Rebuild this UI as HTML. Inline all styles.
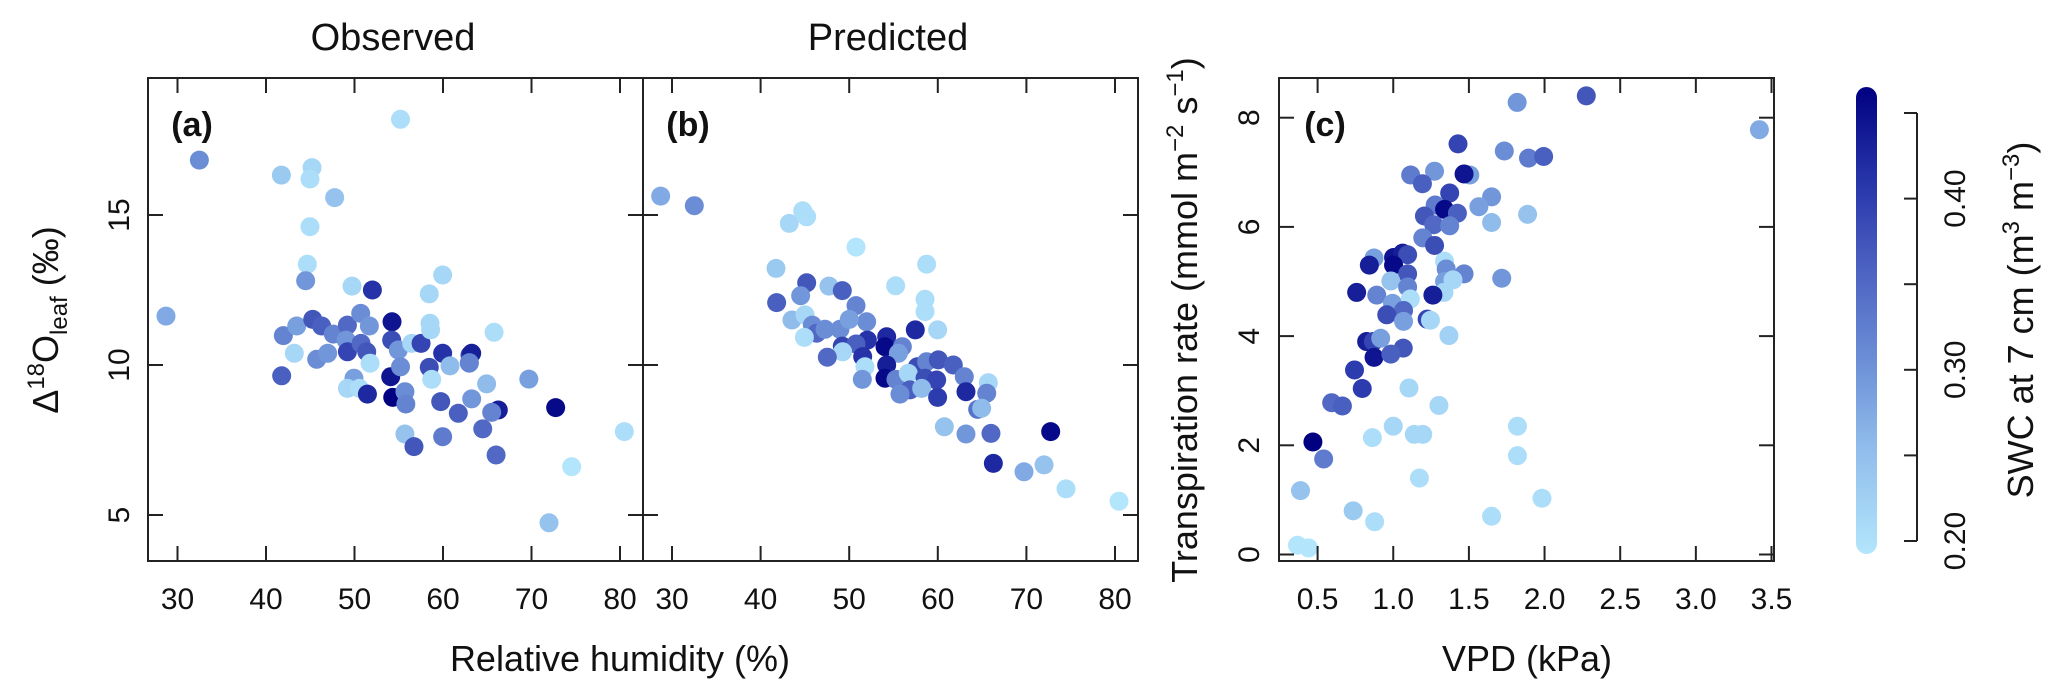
<!DOCTYPE html>
<html><head><meta charset="utf-8">
<style>
html,body{margin:0;padding:0;background:#fff;}
svg{display:block;font-family:"Liberation Sans",Arial,sans-serif;}
</style></head>
<body>
<svg id="chart" width="2067" height="698" viewBox="0 0 2067 698" xmlns="http://www.w3.org/2000/svg">
<defs>
<linearGradient id="cbgrad" x1="0" y1="1" x2="0" y2="0">
<stop offset="0" stop-color="#B3E5FC"/>
<stop offset="0.23" stop-color="#8FBCEB"/>
<stop offset="0.42" stop-color="#6B8DD6"/>
<stop offset="0.62" stop-color="#4A60C0"/>
<stop offset="0.81" stop-color="#2532A8"/>
<stop offset="1" stop-color="#000080"/>
</linearGradient>
</defs>
<g id="layer"></g>
</svg>
<script>
// Panel (a) observed: RH, d18O, SWC
const obsRH = [55.2,32.47,28.7,41.74,45.2,44.97,47.76,44.97,44.67,44.48,49.72,52.02,41.96,43.47,45.28,46.29,47.61,49.2,50.7,51.68,49.05,49.2,50.74,51.38,43.2,45.73,46.97,41.77,49.94,49.2,50.55,51.76,51.46,54.24,54.2,54.95,56.46,57.52,54.09,54.32,55.2,55.7,55.8,55.7,56.72,58.45,58.72,59.96,60.79,59.74,59.96,61.73,63.05,62.97,58.53,58.6,58.45,59.96,65.77,69.7,63.24,62.98,64.93,63.24,66.25,65.5,64.49,66.0,72.73,80.49,74.54,71.98];
const obsD = [18.19,16.83,11.63,16.33,16.58,16.2,15.58,14.61,13.36,12.81,12.63,12.5,10.98,11.3,11.52,11.3,11.03,11.33,11.72,11.3,10.83,10.44,10.72,10.44,10.39,10.19,10.39,9.64,9.56,9.22,9.22,10.06,9.03,11.44,10.83,10.5,10.72,10.72,9.61,8.92,9.94,9.11,8.7,7.7,7.28,9.92,9.52,10.39,9.97,8.78,7.61,8.39,10.33,10.06,11.39,11.17,12.37,13.0,11.09,9.53,10.39,10.08,9.37,8.87,8.5,8.42,7.87,7.0,8.58,7.78,6.61,4.74];
const obsSWC = [0.20,0.30,0.27,0.23,0.21,0.20,0.24,0.20,0.20,0.29,0.21,0.40,0.31,0.28,0.36,0.35,0.31,0.34,0.30,0.29,0.29,0.38,0.34,0.36,0.21,0.30,0.29,0.35,0.28,0.21,0.20,0.20,0.41,0.43,0.37,0.29,0.21,0.38,0.43,0.45,0.30,0.30,0.31,0.24,0.36,0.37,0.20,0.40,0.25,0.36,0.32,0.35,0.38,0.30,0.21,0.21,0.21,0.21,0.20,0.28,0.42,0.31,0.25,0.29,0.42,0.31,0.34,0.34,0.44,0.20,0.19,0.24];
// Panel (b) predicted
const predRH = [28.72,32.52,43.24,44.75,45.2,50.77,41.74,58.74,55.24,45.2,47.72,49.22,44.52,41.81,50.77,58.56,58.56,43.54,45.01,51.97,59.98,45.84,46.33,44.94,47.27,48.96,50.01,57.46,54.23,52.05,49.22,50.77,54.04,56.0,55.55,49.26,47.53,51.52,54.23,51.78,57.69,58.74,60.06,61.75,62.99,65.7,51.48,54.04,55.28,56.67,58.56,59.87,56.86,55.73,58.18,59.98,63.18,65.52,64.5,64.95,60.74,63.18,66.0,72.74,66.27,69.73,71.99,74.47,80.45];
const predD = [15.63,15.31,14.72,15.14,14.94,13.93,13.22,13.36,12.64,12.74,12.63,12.48,12.31,12.08,11.98,12.19,11.78,11.5,11.67,11.44,11.17,11.33,11.06,10.92,11.19,11.19,11.52,11.17,10.94,10.83,10.63,10.7,10.61,10.61,10.39,10.44,10.26,10.28,10.0,9.94,9.94,10.11,10.17,10.0,9.61,9.41,9.52,9.56,9.52,9.72,9.56,9.5,9.17,9.03,9.22,8.92,9.11,9.06,8.52,8.56,7.94,7.7,7.72,7.78,6.72,6.44,6.67,5.87,5.46];
const predSWC = [0.27,0.30,0.21,0.20,0.20,0.19,0.23,0.20,0.20,0.36,0.24,0.35,0.29,0.35,0.31,0.20,0.20,0.25,0.21,0.30,0.21,0.30,0.34,0.20,0.30,0.30,0.28,0.41,0.41,0.40,0.38,0.35,0.44,0.31,0.28,0.21,0.34,0.40,0.42,0.20,0.37,0.31,0.36,0.35,0.31,0.21,0.29,0.44,0.31,0.21,0.37,0.38,0.35,0.30,0.25,0.39,0.41,0.31,0.33,0.25,0.24,0.29,0.34,0.44,0.41,0.27,0.24,0.20,0.19];
// Panel (c) VPD vs transpiration
const vpd = [1.819,2.276,3.42,1.428,1.734,1.894,1.994,1.115,1.273,1.506,1.468,1.193,1.373,1.65,1.566,1.888,1.65,1.277,1.339,1.424,1.206,1.268,1.373,1.195,1.273,0.873,0.842,1.002,1.062,1.095,1.002,1.095,1.339,1.35,1.468,1.717,0.984,1.095,1.339,1.395,1.335,0.758,0.891,1.262,0.995,1.113,1.068,0.957,1.068,1.224,1.246,1.368,0.824,0.869,0.917,1.066,0.873,0.984,0.744,0.795,0.593,0.664,1.104,1.302,0.469,0.54,0.862,1.0,1.139,1.195,1.821,1.821,1.173,0.387,0.735,0.877,1.65,1.983,0.367,0.44];
const trans = [8.28,8.40,7.78,7.52,7.39,7.26,7.29,6.95,7.02,6.95,6.97,6.79,6.62,6.55,6.37,6.23,6.08,6.40,6.32,6.25,6.20,6.04,6.02,5.80,5.66,5.43,5.30,5.44,5.52,5.49,5.30,5.14,5.37,5.23,5.14,5.06,5.01,4.90,5.0,5.03,4.80,4.80,4.75,4.75,4.60,4.68,4.47,4.39,4.27,4.31,4.29,4.01,3.90,3.90,3.96,3.78,3.61,3.67,3.38,3.04,2.78,2.72,3.05,2.73,2.06,1.75,2.14,2.35,2.20,2.20,2.35,1.81,1.40,1.17,0.80,0.60,0.70,1.03,0.17,0.12];
const transSWC = [0.29,0.36,0.27,0.38,0.30,0.32,0.35,0.32,0.29,0.28,0.43,0.35,0.38,0.29,0.28,0.24,0.25,0.32,0.44,0.35,0.36,0.34,0.31,0.31,0.37,0.28,0.42,0.43,0.42,0.37,0.44,0.36,0.20,0.30,0.31,0.29,0.24,0.31,0.28,0.21,0.21,0.42,0.31,0.42,0.28,0.20,0.34,0.37,0.28,0.38,0.21,0.22,0.42,0.38,0.28,0.36,0.43,0.35,0.39,0.39,0.34,0.35,0.21,0.21,0.45,0.32,0.20,0.21,0.21,0.21,0.20,0.20,0.20,0.24,0.23,0.20,0.20,0.20,0.19,0.19];
const rhTicks = [30,40,50,60,70,80];
const dTicks = [5,10,15];
const vpdTicks = [0.5,1.0,1.5,2.0,2.5,3.0,3.5];
const tTicks = [0,2,4,6,8];
const swcTicks = [0.20,0.25,0.30,0.35,0.40,0.45];
const swcLabels = ["0.20","","0.30","","0.40",""];

const NS = "http://www.w3.org/2000/svg";
const layer = document.getElementById("layer");
function mk(tag, attrs, parent){
  const e = document.createElementNS(NS, tag);
  for (const k in attrs) e.setAttribute(k, attrs[k]);
  (parent||layer).appendChild(e);
  return e;
}
const stops = [[0.19,[179,229,252]],[0.25,[143,188,235]],[0.30,[107,141,214]],[0.35,[74,96,192]],[0.40,[37,50,168]],[0.45,[0,0,128]]];
function swcColor(v){
  if (v<=stops[0][0]) return "rgb("+stops[0][1].join(",")+")";
  for (let i=1;i<stops.length;i++){
    if (v<=stops[i][0]){
      const t=(v-stops[i-1][0])/(stops[i][0]-stops[i-1][0]);
      const a=stops[i-1][1], b=stops[i][1];
      return "rgb("+a.map((c,j)=>Math.round(c+(b[j]-c)*t)).join(",")+")";
    }
  }
  return "rgb(0,0,128)";
}
const xa = v => 177.5 + (v-30)*8.85;
const xb = v => 672 + (v-30)*8.86;
const yab = v => 365 - (v-10)*30;
const xc = v => 1317.6 + (v-0.5)*151.3;
const yc = v => 554.5 - v*54.6;
const TOP=78, BOT=561;

function box(x1,x2,name){
  const r = mk("rect",{x:x1,y:TOP,width:x2-x1,height:BOT-TOP,fill:"none",stroke:"#222","stroke-width":2});
  
  
}
function points(xs, ys, cs, fx, fy, name){
  const g = mk("g",{});
  
  
  for (let i=0;i<xs.length;i++){
    const c = mk("circle",{cx:fx(xs[i]),cy:fy(ys[i]),r:9.5,fill:swcColor(cs[i])},g);
    
    
  }
}
function xTicks(ticks, fx, labels, name){
  const g = mk("g",{});
  
  
  ticks.forEach((t,i)=>{
    const x=fx(t);
    mk("line",{x1:x,x2:x,y1:BOT,y2:BOT-15,stroke:"#222","stroke-width":2},g);
    mk("line",{x1:x,x2:x,y1:TOP,y2:TOP+15,stroke:"#222","stroke-width":2},g);
    const tx = mk("text",{x:x,y:609,"font-size":30,"text-anchor":"middle",fill:"#111"},g);
    tx.textContent = labels[i];
    
    
  });
}
function yTicks(ticks, fy, x1, x2, labelX, labels, name){
  const g = mk("g",{});
  
  
  ticks.forEach((t,i)=>{
    const y=fy(t);
    mk("line",{x1:x1,x2:x1+15,y1:y,y2:y,stroke:"#222","stroke-width":2},g);
    mk("line",{x1:x2,x2:x2-15,y1:y,y2:y,stroke:"#222","stroke-width":2},g);
    if (labelX!==null){
      const tx = mk("text",{x:labelX,y:y,"font-size":30,"text-anchor":"middle",fill:"#111",transform:"rotate(-90 "+labelX+" "+y+")"},g);
      tx.textContent = labels[i];
      
      
    }
  });
}
points(obsRH, obsD, obsSWC, xa, yab, 'observed-points');
box(148,643,'panel-a-frame');
xTicks(rhTicks, xa, rhTicks.map(String), 'panel-a-x-axis');
yTicks(dTicks, yab, 148, 643, 129, dTicks.map(String), 'panel-a-y-axis');
points(predRH, predD, predSWC, xb, yab, 'predicted-points');
box(643,1138,'panel-b-frame');
xTicks(rhTicks, xb, rhTicks.map(String), 'panel-b-x-axis');
yTicks(dTicks, yab, 643, 1138, null, [], 'panel-b-y-ticks');
points(vpd, trans, transSWC, xc, yc, 'transpiration-points');
box(1279,1774,'panel-c-frame');
xTicks(vpdTicks, xc, vpdTicks.map(v=>v.toFixed(1)), 'panel-c-x-axis');
yTicks(tTicks, yc, 1279, 1774, 1259, tTicks.map(String), 'panel-c-y-axis');
const cb = mk("rect",{x:1856,y:87,width:21,height:467,rx:10.5,fill:"url(#cbgrad)"});


const cbg = mk("g",{});


const ycb = v => 541 - (v-0.20)*(428/0.25);
mk("line",{x1:1917,x2:1917,y1:ycb(0.45),y2:ycb(0.20),stroke:"#222","stroke-width":2},cbg);
swcTicks.forEach((t,i)=>{
  const y=ycb(t);
  mk("line",{x1:1904,x2:1917,y1:y,y2:y,stroke:"#222","stroke-width":2},cbg);
  if (swcLabels[i]){
    const tx = mk("text",{x:1965,y:y,"font-size":30,"text-anchor":"middle",fill:"#111",transform:"rotate(-90 1965 "+y+")"},cbg);
    tx.textContent = swcLabels[i];
    
    
  }
});
</script>
<script>
(function(){
const NS="http://www.w3.org/2000/svg";
const svg=document.getElementById("chart");
function t(x,y,txt,size,name,opts){
  const e=document.createElementNS(NS,"text");
  e.setAttribute("x",x);e.setAttribute("y",y);
  e.setAttribute("font-size",size);
  e.setAttribute("text-anchor","middle");
  e.setAttribute("fill","#111");
  if(opts&&opts.bold)e.setAttribute("font-weight","bold");
  if(opts&&opts.rot)e.setAttribute("transform","rotate(-90 "+x+" "+y+")");
  e.innerHTML=txt;
  
  
  svg.appendChild(e);
  return e;
}
t(393,50,"Observed",38,'title-observed');
t(888,50,"Predicted",38,'title-predicted');
t(192,136,"(a)",34,'panel-a-label',{bold:1});
t(688,136,"(b)",34,'panel-b-label',{bold:1});
t(1325,136,"(c)",34,'panel-c-label',{bold:1});
t(620,671,"Relative humidity (%)",36,'x-axis-title-rh');
t(1527,671,"VPD (kPa)",36,'x-axis-title-vpd');
t(58,320,'Δ<tspan font-size="24" dy="-14">18</tspan><tspan dy="14">O</tspan><tspan font-size="24" dy="9">leaf</tspan><tspan dy="-9"> (‰)</tspan>',36,'y-axis-title-d18o',{rot:1});
t(1197,320,'Transpiration rate (mmol m<tspan font-size="24" dy="-14">−2</tspan><tspan dy="14"> s</tspan><tspan font-size="24" dy="-14">−1</tspan><tspan dy="14">)</tspan>',36,'y-axis-title-transpiration',{rot:1});
t(2033,320,'SWC at 7 cm (m<tspan font-size="24" dy="-14">3</tspan><tspan dy="14"> m</tspan><tspan font-size="24" dy="-14">−3</tspan><tspan dy="14">)</tspan>',36,'colorbar-title',{rot:1});
})();
</script>
</body></html>
